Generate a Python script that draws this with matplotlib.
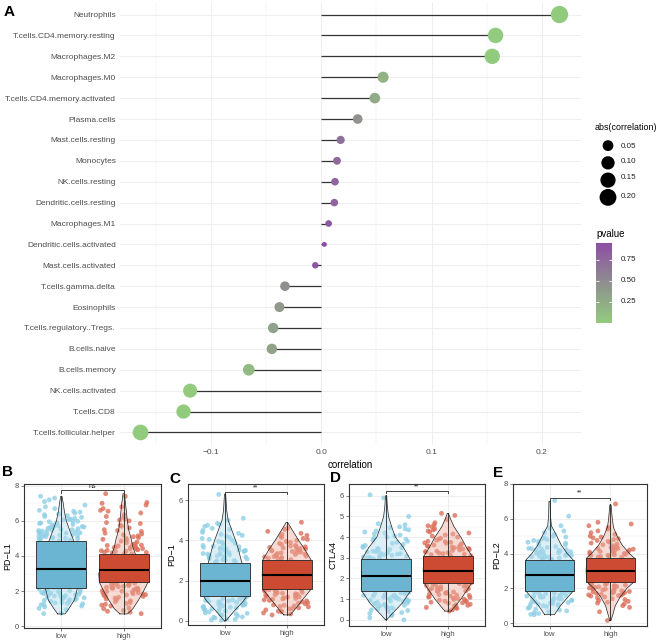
'''
Immune cell correlation lollipop + checkpoint violin/box panels
'''
import numpy as np
import matplotlib.pyplot as plt
from matplotlib.colors import LinearSegmentedColormap, Normalize

plt.rcParams['font.family'] = ['Liberation Sans', 'DejaVu Sans']

W, H = 658, 642

# ---- panel A: correlation of each cell type (top to bottom)
cells = ['Neutrophils', 'T.cells.CD4.memory.resting', 'Macrophages.M2', 'Macrophages.M0',
         'T.cells.CD4.memory.activated', 'Plasma.cells', 'Mast.cells.resting', 'Monocytes',
         'NK.cells.resting', 'Dendritic.cells.resting', 'Macrophages.M1',
         'Dendritic.cells.activated', 'Mast.cells.activated', 'T.cells.gamma.delta',
         'Eosinophils', 'T.cells.regulatory..Tregs.', 'B.cells.naive', 'B.cells.memory',
         'NK.cells.activated', 'T.cells.CD8', 'T.cells.follicular.helper']
correlation = [0.216, 0.158, 0.155, 0.056, 0.0485, 0.033, 0.0175, 0.0142, 0.0124, 0.0118,
               0.0066, 0.0027, -0.0055, -0.033, -0.038, -0.0437, -0.0449, -0.0658,
               -0.119, -0.125, -0.164]
pvalue = [0.0004, 0.004, 0.005, 0.20, 0.26, 0.45, 0.70, 0.75, 0.78, 0.80, 0.88, 0.95, 0.91,
          0.46, 0.40, 0.33, 0.32, 0.14, 0.008, 0.006, 0.0003]
size_breaks = [0.05, 0.10, 0.15, 0.20]
p_breaks = [0.25, 0.50, 0.75]

# ---- panels B-E: expression of checkpoint genes in low / high groups
genes = ['PD\u2212L1', 'PD\u22121', 'CTLA4', 'PD\u2212L2']
signif = ['ns', '**', '**', '**']
groups = ['low', 'high']

# box statistics (q1, median, q3)
pdl1_box = [(2.2, 3.25, 4.85), (2.5, 3.2, 4.1)]
pd1_box = [(1.25, 1.97, 2.9), (1.58, 2.3, 3.03)]
ctla4_box = [(1.38, 2.13, 2.93), (1.8, 2.38, 3.08)]
pdl2_box = [(1.85, 2.78, 3.62), (2.38, 3.0, 3.75)]

# violin outline: (expression, half width in category units)
pdl1_low_violin = [(0.7, .06), (1.0, .12), (1.5, .21), (2.2, .26), (3.0, .33), (3.8, .32),
                   (4.5, .24), (4.85, .20), (5.5, .13), (6.0, .08), (6.5, .05), (7.0, .03), (7.4, .01)]
pdl1_high_violin = [(0.7, .06), (1.0, .15), (1.5, .24), (2.0, .32), (2.5, .39), (3.0, .40),
                    (3.6, .34), (4.1, .19), (4.5, .15), (5.0, .12), (5.5, .08), (6.0, .06),
                    (6.5, .045), (7.0, .03), (7.55, .01)]
pd1_low_violin = [(0.0, .01), (0.5, .15), (1.0, .30), (1.25, .355), (2.0, .38), (2.9, .27),
                  (3.5, .22), (4.0, .17), (4.5, .11), (5.0, .05), (5.5, .025), (6.3, .01)]
pd1_high_violin = [(0.3, .05), (0.5, .11), (1.0, .24), (1.58, .39), (2.3, .40), (3.03, .39),
                   (3.5, .30), (4.0, .19), (4.5, .09), (4.9, .01)]
ctla4_low_violin = [(0.0, .01), (0.3, .10), (0.8, .26), (1.38, .39), (2.1, .40), (2.93, .39),
                    (3.5, .28), (4.0, .15), (4.5, .09), (5.0, .04), (5.5, .02), (6.0, .01)]
ctla4_high_violin = [(0.42, .05), (0.6, .10), (1.0, .21), (1.8, .39), (2.4, .40), (3.08, .39),
                     (3.5, .30), (4.0, .21), (4.5, .10), (4.9, .04), (5.15, .01)]
pdl2_low_violin = [(0.48, .08), (1.0, .18), (1.85, .39), (2.7, .40), (3.62, .39), (4.0, .29),
                   (4.5, .19), (5.0, .12), (5.6, .03), (6.2, .015), (7.0, .01)]
pdl2_high_violin = [(0.15, .01), (0.5, .04), (1.0, .08), (1.5, .16), (2.0, .27), (2.38, .39),
                    (3.0, .40), (3.75, .39), (4.0, .31), (4.5, .19), (5.0, .11), (5.5, .05),
                    (6.0, .03), (6.8, .01)]

# sample values (mostly the ones visible outside the boxes)
pdl1_low = [0.72, 0.75, 0.95, 1.02, 1.1, 1.15, 1.22, 1.25, 1.28, 1.3, 1.33, 1.35, 1.4, 1.42,
            1.47, 1.5, 1.52, 1.55, 1.58, 1.6, 1.62, 1.65, 1.68, 1.7, 1.72, 1.75, 1.78, 1.8,
            1.82, 1.85, 1.88, 1.9, 1.92, 1.95, 1.98, 2.0, 2.02, 2.05, 2.08, 2.1, 2.12, 2.15,
            2.18, 2.2, 2.3, 2.6, 3.0, 3.4, 3.9, 4.4, 4.88, 4.9, 4.92, 4.95, 4.98, 5.0, 5.02,
            5.05, 5.08, 5.1, 5.12, 5.15, 5.18, 5.2, 5.22, 5.25, 5.28, 5.3, 5.32, 5.35, 5.38,
            5.4, 5.42, 5.45, 5.48, 5.5, 5.52, 5.55, 5.58, 5.6, 5.62, 5.65, 5.68, 5.7, 5.72,
            5.78, 5.8, 5.85, 5.88, 5.9, 5.95, 5.98, 6.0, 6.05, 6.08, 6.1, 6.15, 6.2, 6.25,
            6.3, 6.35, 6.4, 6.45, 6.5, 6.55, 6.6, 6.7, 6.8, 6.9, 7.1, 7.2, 7.3, 7.4]
pdl1_high = [0.72, 0.8, 0.85, 0.9, 1.0, 1.05, 1.15, 1.2, 1.25, 1.3, 1.35, 1.4, 1.45, 1.5,
             1.55, 1.6, 1.65, 1.7, 1.72, 1.75, 1.78, 1.8, 1.82, 1.85, 1.88, 1.9, 1.95, 1.98,
             2.0, 2.02, 2.05, 2.08, 2.1, 2.12, 2.15, 2.18, 2.2, 2.22, 2.25, 2.28, 2.3, 2.32,
             2.35, 2.38, 2.4, 2.42, 2.45, 2.48, 2.8, 3.2, 3.6, 4.12, 4.15, 4.18, 4.2, 4.22,
             4.25, 4.28, 4.3, 4.32, 4.35, 4.38, 4.4, 4.42, 4.45, 4.48, 4.5, 4.52, 4.55, 4.58,
             4.6, 4.62, 4.65, 4.7, 4.75, 4.8, 4.85, 4.9, 4.95, 5.0, 5.05, 5.1, 5.15, 5.2,
             5.25, 5.3, 5.4, 5.45, 5.5, 5.6, 5.7, 5.75, 5.85, 5.9, 6.0, 6.05, 6.1, 6.2, 6.25,
             6.35, 6.45, 6.55, 6.6, 6.7, 6.8, 6.9, 7.0, 7.05, 7.4, 7.55]
pd1_low = [0.03, 0.05, 0.08, 0.1, 0.15, 0.18, 0.2, 0.25, 0.28, 0.3, 0.35, 0.38, 0.4, 0.45,
           0.48, 0.5, 0.55, 0.58, 0.6, 0.62, 0.65, 0.68, 0.7, 0.72, 0.75, 0.78, 0.8, 0.82,
           0.85, 0.88, 0.9, 0.92, 0.95, 0.98, 1.0, 1.02, 1.05, 1.08, 1.1, 1.12, 1.15, 1.18,
           1.2, 1.22, 1.5, 1.9, 2.3, 2.7, 2.92, 2.95, 2.98, 3.0, 3.02, 3.05, 3.08, 3.1, 3.12,
           3.15, 3.18, 3.2, 3.22, 3.25, 3.28, 3.3, 3.32, 3.35, 3.38, 3.4, 3.42, 3.45, 3.48,
           3.5, 3.52, 3.55, 3.58, 3.6, 3.62, 3.65, 3.68, 3.7, 3.75, 3.8, 3.85, 3.9, 3.95,
           4.0, 4.05, 4.1, 4.15, 4.2, 4.25, 4.3, 4.35, 4.4, 4.5, 4.55, 4.6, 4.7, 4.75, 4.8,
           4.85, 5.0, 5.1, 6.28]
pd1_high = [0.3, 0.35, 0.4, 0.45, 0.48, 0.5, 0.55, 0.6, 0.62, 0.65, 0.7, 0.72, 0.75, 0.78,
            0.8, 0.85, 0.88, 0.9, 0.95, 1.0, 1.02, 1.05, 1.08, 1.1, 1.12, 1.15, 1.18, 1.2,
            1.22, 1.25, 1.28, 1.3, 1.32, 1.35, 1.38, 1.4, 1.42, 1.45, 1.48, 1.5, 1.52, 1.55,
            1.56, 1.9, 2.3, 2.7, 3.05, 3.08, 3.1, 3.12, 3.15, 3.18, 3.2, 3.22, 3.25, 3.28,
            3.3, 3.32, 3.35, 3.38, 3.4, 3.42, 3.45, 3.48, 3.5, 3.52, 3.55, 3.58, 3.6, 3.62,
            3.65, 3.68, 3.7, 3.72, 3.75, 3.8, 3.85, 3.9, 3.95, 4.0, 4.05, 4.1, 4.15, 4.2,
            4.25, 4.3, 4.35, 4.45, 4.55, 4.6, 4.9]
ctla4_low = [0.0, 0.1, 0.2, 0.25, 0.3, 0.35, 0.4, 0.45, 0.48, 0.5, 0.52, 0.55, 0.58, 0.6,
             0.62, 0.65, 0.68, 0.7, 0.72, 0.75, 0.78, 0.8, 0.82, 0.85, 0.88, 0.9, 0.92, 0.95,
             0.98, 1.0, 1.02, 1.05, 1.08, 1.1, 1.12, 1.15, 1.18, 1.2, 1.22, 1.25, 1.28, 1.3,
             1.32, 1.35, 1.7, 2.1, 2.5, 2.95, 2.98, 3.0, 3.02, 3.05, 3.08, 3.1, 3.12, 3.15,
             3.18, 3.2, 3.22, 3.25, 3.28, 3.3, 3.32, 3.35, 3.38, 3.4, 3.42, 3.45, 3.48, 3.5,
             3.55, 3.6, 3.65, 3.7, 3.75, 3.8, 3.85, 3.9, 3.95, 4.0, 4.05, 4.1, 4.15, 4.2,
             4.25, 4.3, 4.35, 4.4, 4.45, 4.5, 4.6, 4.65, 5.0, 5.9, 6.05]
ctla4_high = [0.42, 0.48, 0.55, 0.58, 0.6, 0.65, 0.7, 0.72, 0.75, 0.8, 0.82, 0.85, 0.88, 0.9,
              0.92, 0.95, 0.98, 1.0, 1.02, 1.05, 1.08, 1.1, 1.12, 1.15, 1.18, 1.2, 1.22,
              1.25, 1.28, 1.3, 1.32, 1.35, 1.38, 1.4, 1.42, 1.45, 1.48, 1.5, 1.52, 1.55, 1.58,
              1.6, 1.62, 1.65, 1.68, 1.7, 1.72, 1.75, 1.78, 2.1, 2.5, 2.9, 3.1, 3.12, 3.15,
              3.18, 3.2, 3.22, 3.25, 3.28, 3.3, 3.32, 3.35, 3.38, 3.4, 3.42, 3.45, 3.48, 3.5,
              3.52, 3.55, 3.58, 3.6, 3.62, 3.68, 3.7, 3.72, 3.75, 3.78, 3.8, 3.85, 3.9, 3.95,
              4.0, 4.05, 4.1, 4.15, 4.2, 4.25, 4.3, 4.35, 4.4, 4.5, 4.55, 4.6, 4.7, 4.85,
              5.05, 5.15]
pdl2_low = [0.48, 0.5, 0.55, 0.6, 0.65, 0.7, 0.75, 0.8, 0.85, 0.9, 0.95, 1.0, 1.02, 1.05,
            1.08, 1.1, 1.12, 1.15, 1.18, 1.2, 1.22, 1.25, 1.28, 1.3, 1.32, 1.35, 1.38, 1.4,
            1.42, 1.45, 1.48, 1.5, 1.52, 1.55, 1.58, 1.6, 1.62, 1.65, 1.68, 1.7, 1.72, 1.75,
            1.78, 1.8, 1.82, 2.2, 2.6, 3.0, 3.4, 3.65, 3.68, 3.7, 3.72, 3.75, 3.78, 3.8,
            3.82, 3.85, 3.88, 3.9, 3.92, 3.95, 3.98, 4.0, 4.02, 4.05, 4.08, 4.1, 4.12, 4.15,
            4.18, 4.2, 4.22, 4.25, 4.28, 4.3, 4.35, 4.4, 4.45, 4.5, 4.55, 4.6, 4.65, 4.7,
            4.75, 4.8, 4.85, 4.9, 4.95, 5.0, 5.1, 5.2, 5.3, 5.45, 5.6, 6.15, 7.05]
pdl2_high = [0.15, 0.65, 0.9, 1.0, 1.1, 1.15, 1.2, 1.25, 1.3, 1.35, 1.4, 1.45, 1.5, 1.55,
             1.58, 1.6, 1.62, 1.65, 1.68, 1.7, 1.72, 1.75, 1.78, 1.8, 1.82, 1.85, 1.88, 1.9,
             1.92, 1.95, 1.98, 2.0, 2.02, 2.05, 2.08, 2.1, 2.12, 2.15, 2.18, 2.2, 2.22, 2.25,
             2.28, 2.3, 2.32, 2.35, 2.7, 3.1, 3.5, 3.78, 3.8, 3.82, 3.85, 3.88, 3.9, 3.92,
             3.95, 3.98, 4.0, 4.02, 4.05, 4.08, 4.1, 4.12, 4.15, 4.18, 4.2, 4.22, 4.25, 4.28,
             4.3, 4.32, 4.35, 4.4, 4.45, 4.5, 4.55, 4.6, 4.65, 4.7, 4.75, 4.8, 4.85, 4.9,
             4.95, 5.0, 5.1, 5.2, 5.3, 5.4, 5.5, 5.6, 5.7, 5.8, 6.85]

panel_boxes = [pdl1_box, pd1_box, ctla4_box, pdl2_box]
panel_violins = [(pdl1_low_violin, pdl1_high_violin), (pd1_low_violin, pd1_high_violin),
                 (ctla4_low_violin, ctla4_high_violin), (pdl2_low_violin, pdl2_high_violin)]
panel_points = [(pdl1_low, pdl1_high), (pd1_low, pd1_high),
                (ctla4_low, ctla4_high), (pdl2_low, pdl2_high)]

TXT = '#4D4D4D'
GRID = '#EBEBEB'

fig = plt.figure(figsize=(W / 100, H / 100), dpi=100)


def px_axes(left, top, right, bottom):
    'axes from pixel box (y measured from top)'
    return fig.add_axes([left / W, 1 - bottom / H, (right - left) / W, (bottom - top) / H])


def dot_size(v, vmin, vmax):
    'ggplot-like area scale -> scatter size in pt^2'
    d_px = 5.0 + 12.3 * np.sqrt((np.asarray(v) - vmin) / (vmax - vmin))
    return (d_px * 0.72) ** 2


# ---------------- panel A
cmap = LinearSegmentedColormap.from_list('pv', ['#93CB7E', '#8F8F8F', '#8D4FA5'])
pnorm = Normalize(vmin=min(pvalue), vmax=max(pvalue))
absr = np.abs(correlation)
amin, amax = absr.min(), absr.max()

axa = px_axes(120, 2, 581, 445)
ypos = np.arange(len(cells))[::-1]
axa.hlines(ypos, 0, correlation, color='#333333', lw=0.9, zorder=2)
axa.scatter(correlation, ypos, s=dot_size(absr, amin, amax), c=pvalue, cmap=cmap, norm=pnorm,
            edgecolors='none', zorder=3)
axa.set_xlim(-0.1826, 0.2355)
axa.set_ylim(-0.6, len(cells) - 0.4)
axa.set_yticks(ypos)
axa.set_yticklabels(cells)
axa.set_xticks([-0.1, 0.0, 0.1, 0.2])
axa.set_xticklabels(['\u22120.1', '0.0', '0.1', '0.2'])
axa.set_xticks([-0.15, -0.05, 0.05, 0.15], minor=True)
axa.grid(True, which='major', color=GRID, lw=0.6)
axa.grid(True, which='minor', axis='x', color=GRID, lw=0.35)
axa.set_axisbelow(True)
axa.tick_params(length=0, labelsize=6, colors=TXT, pad=3)
axa.tick_params(which='minor', length=0)
for s in axa.spines.values():
    s.set_visible(False)
axa.set_xlabel('correlation', fontsize=7, labelpad=3)
fig.text(4 / W, 1 - 12 / H, 'A', fontsize=11, weight='bold', va='center')

# size legend
fig.text(595 / W, 1 - 128 / H, 'abs(correlation)', fontsize=6.4, va='center')
axs = px_axes(596, 137, 620, 206)
axs.scatter([0.5] * len(size_breaks), size_breaks, s=dot_size(size_breaks, amin, amax),
            color='black', edgecolors='none')
axs.set_xlim(0, 1)
axs.set_ylim(0.225, 0.025)
axs.axis('off')
for v, yp in zip(size_breaks, [146, 162, 178, 197]):
    fig.text(621 / W, 1 - yp / H, f'{v:.2f}', fontsize=5.8, color='#222222', va='center')

# colourbar
fig.text(596 / W, 1 - 234 / H, 'pvalue', fontsize=7, va='center')
axc = px_axes(596, 243, 612, 323)
grad = np.linspace(min(pvalue), max(pvalue), 200).reshape(-1, 1)
axc.imshow(grad, cmap=cmap, norm=pnorm, aspect='auto', origin='lower',
           extent=[0, 1, min(pvalue), max(pvalue)])
axc.hlines(p_breaks, 0, 0.2, color='white', lw=0.6)
axc.hlines(p_breaks, 0.8, 1, color='white', lw=0.6)
axc.set_xlim(0, 1)
axc.axis('off')
for v in p_breaks:
    axc.text(1.55, v, f'{v:.2f}', fontsize=5.8, color='#222222', va='center',
             transform=axc.get_yaxis_transform())

# ---------------- panels B-E
rects = [(24, 484, 161, 628), (188, 484, 324, 625), (349, 484, 485, 626), (513, 484, 647, 626)]
ylims = [(-0.1, 8.1), (-0.2, 6.8), (-0.3, 6.57), (-0.17, 8.0)]
yticks = [[0, 2, 4, 6, 8], [0, 2, 4, 6], [0, 1, 2, 3, 4, 5, 6], [0, 2, 4, 6, 8]]
bracket_y = [7.73, 6.4, 6.25, 7.22]
letters = ['B', 'C', 'D', 'E']
letter_pos = [(2, 472), (169, 479), (330, 478), (493, 473)]

point_col = ['#8ECFE6', '#DD6F5A']
violin_col = ['#B2DCEC', '#EDAE9F']
box_col = ['#6CB5D2', '#CD4B33']

rng = np.random.default_rng(11)

for k, rect in enumerate(rects):
    ax = px_axes(*rect)
    for g in range(2):
        xc = g + 1
        vals = np.asarray(panel_points[k][g])
        jit = rng.uniform(-0.38, 0.38, len(vals))
        ax.scatter(xc + jit, vals, s=12, color=point_col[g], alpha=0.8, edgecolors='none',
                   zorder=2)
        vy, vw = zip(*panel_violins[k][g])
        vy, vw = np.array(vy), np.array(vw)
        ax.fill_betweenx(vy, xc - vw, xc + vw, facecolor=violin_col[g], alpha=0.45,
                         edgecolor='none', zorder=3)
        ax.plot(np.r_[xc - vw, (xc + vw)[::-1], xc - vw[0]], np.r_[vy, vy[::-1], vy[0]],
                color='#222222', lw=0.5, zorder=3.1)
        q1, med, q3 = panel_boxes[k][g]
        stats = [dict(q1=q1, med=med, q3=q3, whislo=vals.min(), whishi=vals.max())]
        ax.bxp(stats, positions=[xc], widths=0.8, patch_artist=True, showfliers=False,
               showcaps=False,
               boxprops=dict(facecolor=box_col[g], edgecolor='#222222', lw=0.6),
               whiskerprops=dict(color='#222222', lw=0.6),
               medianprops=dict(color='black', lw=1.5), zorder=4)
    # significance bracket
    yb = bracket_y[k]
    tick = 0.016 * (ylims[k][1] - ylims[k][0])
    ax.plot([1, 1, 2, 2], [yb - tick, yb, yb, yb - tick], color='#222222', lw=0.6, zorder=5)
    ax.text(1.5, yb + tick * 0.3, signif[k], fontsize=5, ha='center', va='bottom',
            color='#222222')
    ax.set_xlim(0.4, 2.6)
    ax.set_ylim(*ylims[k])
    ax.set_xticks([1, 2])
    ax.set_xticklabels(groups)
    ax.set_yticks(yticks[k])
    mids = np.array(yticks[k][:-1]) + np.diff(yticks[k]) / 2
    ax.set_yticks(mids, minor=True)
    ax.grid(True, which='major', color=GRID, lw=0.6)
    ax.grid(True, which='minor', axis='y', color=GRID, lw=0.35)
    ax.set_axisbelow(True)
    ax.tick_params(labelsize=5.5, colors=TXT, length=2, width=0.5, pad=1.5)
    ax.tick_params(which='minor', length=0)
    for s in ax.spines.values():
        s.set_color('#333333')
        s.set_linewidth(0.8)
    ax.set_ylabel(genes[k], fontsize=6.5, labelpad=2)
    lx, ly = letter_pos[k]
    fig.text(lx / W, 1 - ly / H, letters[k], fontsize=11, weight='bold', va='center')

fig.savefig('out.png', dpi=100)
